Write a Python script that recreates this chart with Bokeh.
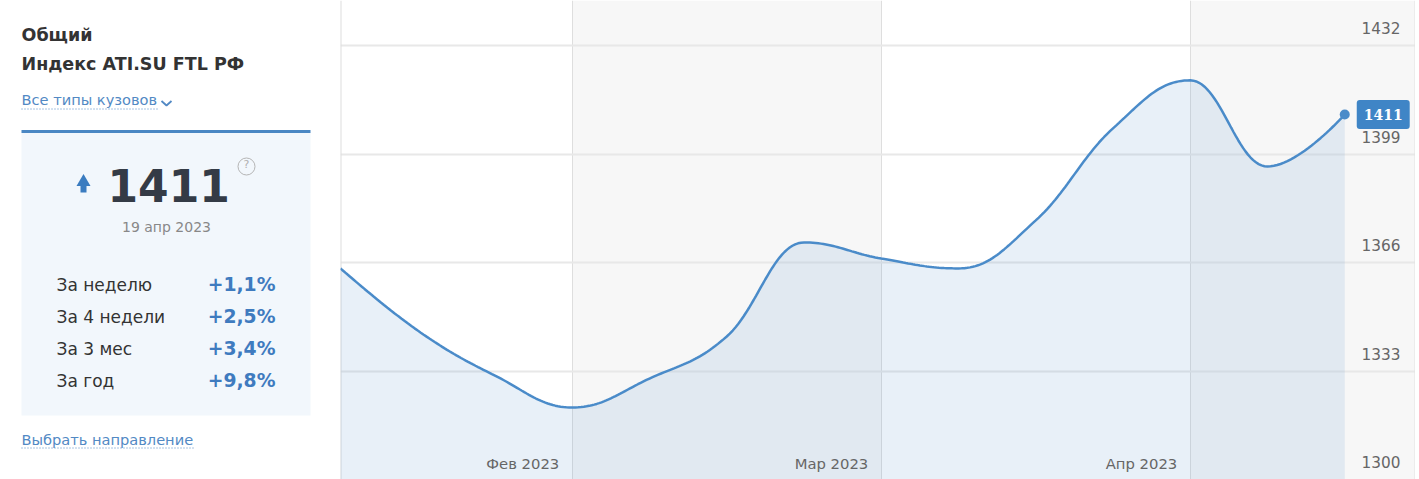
from bokeh.plotting import figure
from bokeh.layouts import row
from bokeh.models import Range1d, FixedTicker, BoxAnnotation, Span, Label
from bokeh.core.properties import value
from bokeh.embed import file_html
from bokeh.resources import INLINE

# ---------------- data ----------------
week_index = list(range(14))
index_values = [1364.2, 1345.3, 1331.6, 1321.9, 1330.7, 1343.5, 1372.1,
                1367.2, 1364.2, 1378.8, 1406.8, 1421.4, 1395.2, 1411.0]
month_pos = [3, 7, 11]
month_labels = ["Фев 2023", "Мар 2023", "Апр 2023"]
y_ticks = [1300, 1333, 1366, 1399, 1432]

title1 = "Общий"
title2 = "Индекс ATI.SU FTL РФ"
body_link = "Все типы кузовов"
current_value = "1411"
current_date = "19 апр 2023"
periods = ["За неделю", "За 4 недели", "За 3 мес", "За год"]
changes = ["+1,1%", "+2,5%", "+3,4%", "+9,8%"]
bottom_link = "Выбрать направление"

FONT = value("DejaVu Sans")
LINE_C = "#4a8bc9"
LINK_C = "#5289c4"


# ------------- spline (Highcharts-like) -------------
def spline(xs, ys, smoothing=1.5, steps=30):
    n = len(xs)
    left = [None] * n
    right = [None] * n
    d = smoothing + 1
    for i in range(1, n - 1):
        lx, ly = xs[i - 1], ys[i - 1]
        nx, ny = xs[i + 1], ys[i + 1]
        px, py = xs[i], ys[i]
        lcx = (smoothing * px + lx) / d
        lcy = (smoothing * py + ly) / d
        rcx = (smoothing * px + nx) / d
        rcy = (smoothing * py + ny) / d
        if rcx != lcx:
            corr = ((rcy - lcy) * (rcx - px)) / (rcx - lcx) + py - rcy
            lcy += corr
            rcy += corr
        if lcy > ly and lcy > py:
            lcy = max(ly, py); rcy = 2 * py - lcy
        elif lcy < ly and lcy < py:
            lcy = min(ly, py); rcy = 2 * py - lcy
        if rcy > ny and rcy > py:
            rcy = max(ny, py); lcy = 2 * py - rcy
        elif rcy < ny and rcy < py:
            rcy = min(ny, py); lcy = 2 * py - rcy
        left[i] = (lcx, lcy)
        right[i] = (rcx, rcy)
    ox, oy = [xs[0]], [ys[0]]
    for i in range(1, n):
        p0 = (xs[i - 1], ys[i - 1])
        p3 = (xs[i], ys[i])
        c1 = right[i - 1] if right[i - 1] else p0
        c2 = left[i] if left[i] else p3
        for k in range(1, steps + 1):
            t = k / steps
            a = (1 - t) ** 3; b = 3 * (1 - t) ** 2 * t; c = 3 * (1 - t) * t ** 2; e = t ** 3
            ox.append(a * p0[0] + b * c1[0] + c * c2[0] + e * p3[0])
            oy.append(a * p0[1] + b * c1[1] + c * c2[1] + e * p3[1])
    return ox, oy


# ---------------- left panel ----------------
W_PANEL = 340
H = 479
panel = figure(width=W_PANEL, height=H, x_range=Range1d(0, 340), y_range=Range1d(479, 0),
               output_backend="svg", toolbar_location=None, min_border=0,
               background_fill_color="white", border_fill_color="white", outline_line_color=None)
panel.axis.visible = False
panel.grid.visible = False

panel.text(x=[21], y=[44], text=[title1], text_font=FONT, text_font_size=value("17.5px"),
           text_font_style="bold", text_color="#333333")
panel.text(x=[21], y=[73.5], text=[title2], text_font=FONT, text_font_size=value("17.5px"),
           text_font_style="bold", text_color="#333333")
panel.text(x=[21], y=[107.5], text=[body_link], text_font=FONT, text_font_size=value("14.6px"),
           text_color=LINK_C)
panel.line(x=[21, 158], y=[108.5, 108.5], line_color=LINK_C, line_width=1, line_dash="1 2")
panel.line(x=[161, 166, 171], y=[100.5, 105, 100.5], line_color=LINK_C, line_width=1.8)

# box
panel.quad(left=[21], right=[310], top=[131], bottom=[415], fill_color="#f2f7fc", line_color=None)
panel.quad(left=[21], right=[310], top=[129.5], bottom=[132.5], fill_color="#4a87c3", line_color=None)

# arrow
panel.scatter(x=[83], y=[181.5], marker="triangle", size=14, fill_color="#3b7cc0", line_color=None)
panel.quad(left=[80], right=[86], top=[184], bottom=[192], fill_color="#3b7cc0", line_color=None)

panel.text(x=[107], y=[201], text=[current_value], text_font=FONT, text_font_size=value("44px"),
           text_font_style="bold", text_color="#343b46")
panel.scatter(x=[246], y=[166], marker="circle", size=17, fill_color=None, line_color="#b5b5b5", line_width=1)
panel.text(x=[246], y=[170.5], text=["?"], text_font=FONT, text_font_size=value("11px"),
           text_color="#b0b0b0", text_align="center")
panel.text(x=[166], y=[234], text=[current_date], text_font=FONT, text_font_size=value("14px"),
           text_color="#888888", text_align="center")

row_y = [294, 326, 358.3, 390.5]
panel.text(x=[56] * 4, y=row_y, text=periods, text_font=FONT, text_font_size=value("17px"),
           text_color="#333333")
panel.text(x=[275] * 4, y=row_y, text=changes, text_font=FONT, text_font_size=value("18.8px"),
           text_font_style="bold", text_color="#3f7bbf", text_align="right")

panel.text(x=[21], y=[447], text=[bottom_link], text_font=FONT, text_font_size=value("14.6px"),
           text_color=LINK_C)
panel.line(x=[21, 193], y=[447.5, 447.5], line_color=LINK_C, line_width=1, line_dash="1 2")

# ---------------- chart ----------------
W_CHART = 1075
px_per_week = 77.25
px_per_unit = (479 - 45) / 132.0
x_end = W_CHART / px_per_week
y_top = 1432 + 45 / px_per_unit
y_bot = 1300

p = figure(width=W_CHART, height=H, x_range=Range1d(0, x_end), y_range=Range1d(y_bot, y_top),
           output_backend="svg", toolbar_location=None, min_border=0,
           background_fill_color="white", border_fill_color="white", outline_line_color=None)
p.xaxis.visible = False
p.yaxis.visible = False

# alternating month bands
p.add_layout(BoxAnnotation(left=month_pos[0], right=month_pos[1], fill_color="#f7f7f7",
                           fill_alpha=1, line_color=None, level="image"))
p.add_layout(BoxAnnotation(left=month_pos[2], fill_color="#f7f7f7",
                           fill_alpha=1, line_color=None, level="image"))

p.ygrid.ticker = FixedTicker(ticks=y_ticks)
p.ygrid.grid_line_color = "#e8e8e8"
p.ygrid.grid_line_width = 2
p.xgrid.ticker = FixedTicker(ticks=month_pos)
p.xgrid.grid_line_color = "#dedede"
p.xgrid.grid_line_width = 1
p.add_layout(Span(location=0, dimension="height", line_color="#dddddd", line_width=2, level="underlay"))
p.add_layout(Span(location=x_end, dimension="height", line_color="#e2e2e2", line_width=2, level="underlay"))

sx, sy = spline(week_index, index_values)
p.varea(x=sx, y1=[y_bot - 20] * len(sx), y2=sy, fill_color=LINE_C, fill_alpha=0.13)
p.line(sx, sy, line_color=LINE_C, line_width=2.5)
p.scatter(x=[week_index[-1]], y=[index_values[-1]], size=10, fill_color=LINE_C, line_color=None)

# y tick labels inside plot
p.text(x=[x_end] * len(y_ticks), y=y_ticks, text=[str(t) for t in y_ticks], x_offset=-15, y_offset=-17.5,
       text_font=FONT, text_font_size=value("15.3px"), text_color="#666666",
       text_align="right", text_baseline="alphabetic")
# month labels
p.text(x=month_pos, y=[y_bot] * len(month_pos), text=month_labels, x_offset=-13, y_offset=-16,
       text_font=FONT, text_font_size=value("14.8px"), text_color="#666666",
       text_align="right", text_baseline="alphabetic")

p.add_layout(Label(x=week_index[-1], y=index_values[-1], text=str(int(round(index_values[-1]))),
                   x_offset=12, y_offset=0, text_align="left", text_baseline="middle",
                   text_font="DejaVu Serif", text_font_size="14px", text_font_style="bold",
                   text_color="white", background_fill_color="#3f85c6", background_fill_alpha=1,
                   border_radius=3, padding=(7, 9)))

layout = row(panel, p)
open("out.html", "w").write(file_html(layout, INLINE))
